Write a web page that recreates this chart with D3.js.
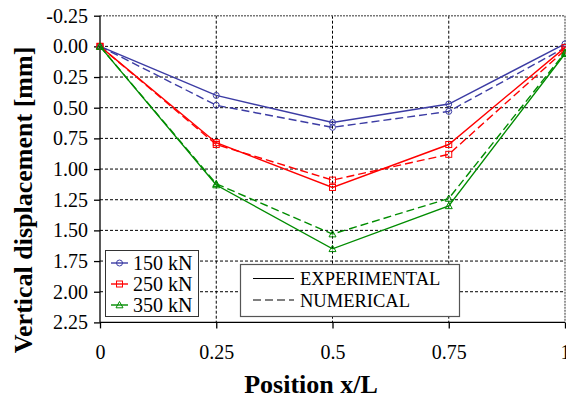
<!DOCTYPE html>
<html><head><meta charset="utf-8">
<script src="https://cdn.jsdelivr.net/npm/d3@7"></script>
<style>body{margin:0;background:#fff}svg{display:block}</style>
</head><body><svg id="c" width="566" height="399"></svg>
<script>
const positions = [0, 0.25, 0.5, 0.75, 1];
const exp150 = [0.00, 0.40, 0.62, 0.47, -0.02];
const num150 = [0.00, 0.48, 0.66, 0.53, 0.01];
const exp250 = [0.00, 0.785, 1.15, 0.80, 0.01];
const num250 = [0.00, 0.80, 1.09, 0.88, 0.03];
const exp350 = [0.00, 1.13, 1.65, 1.30, 0.06];
const num350 = [0.00, 1.12, 1.53, 1.24, 0.05];
const seriesNames = ["150 kN", "250 kN", "350 kN"];
const yTicks = [-0.25, 0, 0.25, 0.5, 0.75, 1, 1.25, 1.5, 1.75, 2, 2.25];
const yTickLabels = ["-0.25","0.00","0.25","0.50","0.75","1.00","1.25","1.50","1.75","2.00","2.25"];
const xTicks = [0, 0.25, 0.5, 0.75, 1];
const xTickLabels = ["0","0.25","0.5","0.75","1"];
const styleNames = ["EXPERIMENTAL", "NUMERICAL"];

const colors = ["#3c3ca4", "#ff0000", "#008c00"];
const shapes = ["circle", "square", "triangle"];
const FONT = "Liberation Serif";
const svg = d3.select("#c");
const x = d3.scaleLinear().domain([0, 1]).range([100, 565]);
const y = d3.scaleLinear().domain([-0.25, 2.25]).range([15.7, 322.4]);

// grid
const g = svg.append("g");
yTicks.slice(1, -1).forEach(v => {
  g.append("line").attr("x1", x(0)).attr("x2", x(1)).attr("y1", y(v)).attr("y2", y(v))
   .attr("stroke", "#000").attr("stroke-width", 1).attr("stroke-dasharray", "3,2");
});
xTicks.slice(1, -1).forEach(v => {
  g.append("line").attr("x1", x(v)).attr("x2", x(v)).attr("y1", y(-0.25)).attr("y2", y(2.25))
   .attr("stroke", "#000").attr("stroke-width", 1).attr("stroke-dasharray", "3,2");
});
g.append("path").attr("d", `M${x(0)},${y(-0.25)}H${x(1)}V${y(2.25)}`)
 .attr("fill", "none").attr("stroke", "#777").attr("stroke-width", 1.5).attr("stroke-dasharray", "2,1");

// axes
const yAxis = d3.axisLeft(y).tickValues(yTicks).tickFormat((d, i) => yTickLabels[i]).tickSize(6).tickPadding(6);
const ya = svg.append("g").attr("transform", `translate(${x(0)},0)`).call(yAxis);
const xAxis = d3.axisBottom(x).tickValues(xTicks).tickFormat((d, i) => xTickLabels[i]).tickSize(6).tickPadding(16);
const xa = svg.append("g").attr("transform", `translate(0,${y(2.25)})`).call(xAxis);
[ya, xa].forEach(a => {
  a.attr("font-family", FONT).attr("font-size", 20);
  a.select(".domain").attr("stroke", "#000").attr("stroke-width", 1.3);
  a.selectAll(".tick line").attr("stroke", "#000").attr("stroke-width", 1.3);
  a.selectAll(".tick text").attr("fill", "#000");
});
ya.select(".domain").attr("d", `M0,${y(-0.25)}V${y(2.25)}`);
xa.select(".domain").attr("d", `M${x(0)},0H${x(1)}`);

function marker(sel, shape, cx, cy, color) {
  if (shape === "circle") sel.append("circle").attr("cx", cx).attr("cy", cy).attr("r", 3).attr("fill", "none").attr("stroke", color).attr("stroke-width", 1);
  else if (shape === "square") sel.append("rect").attr("x", cx - 3).attr("y", cy - 3).attr("width", 6).attr("height", 6).attr("fill", "none").attr("stroke", color).attr("stroke-width", 1);
  else sel.append("path").attr("d", `M${cx},${cy - 3.5}L${cx + 3.5},${cy + 2.8}L${cx - 3.5},${cy + 2.8}Z`).attr("fill", "none").attr("stroke", color).attr("stroke-width", 1);
}

const line = d3.line().x((d, i) => x(positions[i])).y(d => y(d));
const allSeries = [[exp150, num150], [exp250, num250], [exp350, num350]];
allSeries.forEach((pair, si) => {
  pair.forEach((vals, k) => {
    const s = svg.append("g");
    s.append("path").attr("d", line(vals)).attr("fill", "none").attr("stroke", colors[si])
      .attr("stroke-width", 1.4).attr("stroke-dasharray", k === 1 ? "8,4" : null);
    vals.forEach((v, i) => marker(s, shapes[si], x(positions[i]), y(v), colors[si]));
  });
});

// legend 1
const l1 = svg.append("g").attr("font-family", FONT);
l1.append("rect").attr("x", 105.5).attr("y", 250.5).attr("width", 93).attr("height", 66)
  .attr("fill", "#fff").attr("stroke", "#333").attr("stroke-width", 1);
seriesNames.forEach((n, i) => {
  const ly = 263 + i * 21;
  l1.append("line").attr("x1", 111).attr("x2", 128).attr("y1", ly).attr("y2", ly).attr("stroke", colors[i]).attr("stroke-width", 1.4);
  marker(l1, shapes[i], 119.5, ly, colors[i]);
  l1.append("text").attr("x", 133).attr("y", ly + 7).attr("font-size", 20).text(n);
});
// legend 2
const l2 = svg.append("g").attr("font-family", FONT);
l2.append("rect").attr("x", 240.5).attr("y", 264.5).attr("width", 219).attr("height", 52)
  .attr("fill", "#fff").attr("stroke", "#555").attr("stroke-width", 1.2);
styleNames.forEach((n, i) => {
  const ly = 278.5 + i * 21.5;
  l2.append("line").attr("x1", 253).attr("x2", 294).attr("y1", ly).attr("y2", ly).attr("stroke", "#000")
    .attr("stroke-width", 1.2).attr("stroke-dasharray", i === 1 ? "8,4" : null);
  l2.append("text").attr("x", 300).attr("y", ly + 6.5).attr("font-size", 18.5).text(n);
});

// titles
svg.append("text").attr("font-family", FONT).attr("x", 311).attr("y", 393).attr("text-anchor", "middle").attr("font-size", 26).attr("font-weight", "bold").text("Position x/L");
svg.append("text").attr("font-family", FONT).attr("transform", "translate(32,200) rotate(-90)").attr("text-anchor", "middle").attr("font-size", 26).attr("font-weight", "bold").text("Vertical displacement [mm]");
</script></body></html>
